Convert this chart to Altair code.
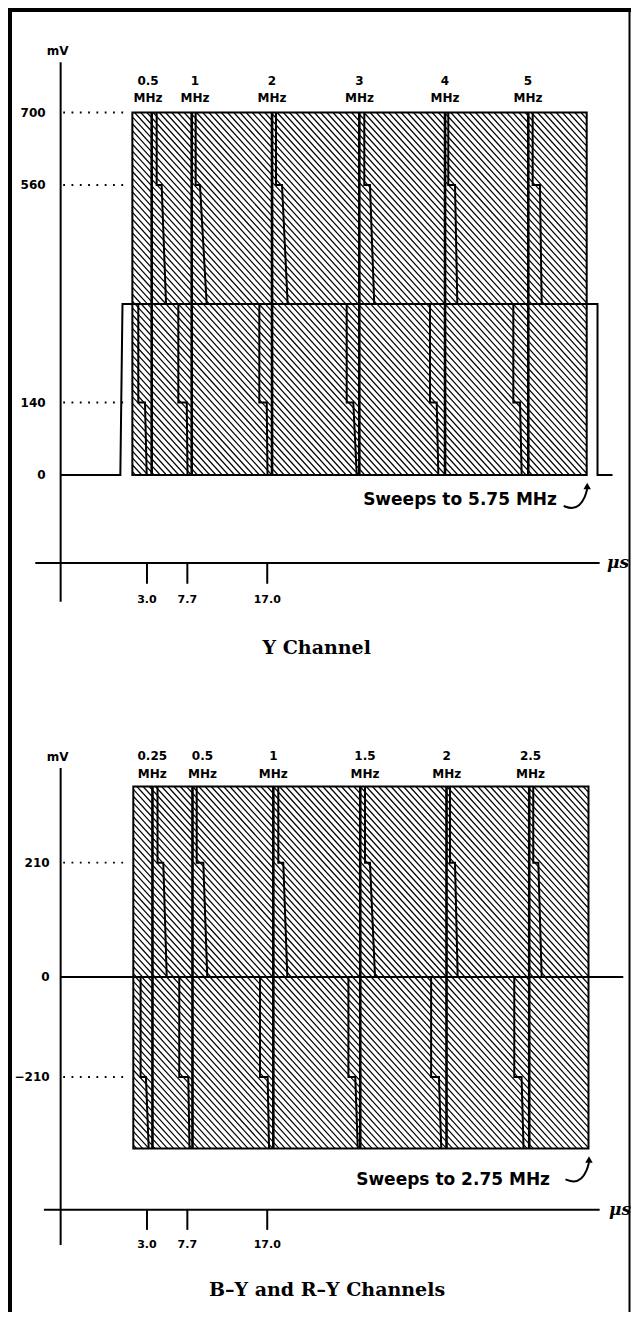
import altair as alt
import pandas as pd

# ============================ data ============================
# time ticks on the horizontal axis (microseconds)
time_ticks = [3.0, 7.7, 17.0]

# ---- Y channel (top diagram) ----
top_freq = ["0.5", "1", "2", "3", "4", "5"]
top_label_us = [3.12, 8.59, 17.56, 27.74, 37.70, 47.36]
top_edge_us = [3.55, 8.21, 17.56, 27.72, 37.70, 47.39]
top_upper_b = [4.13, 8.67, 18.02, 28.30, 38.08, 47.90]
top_upper_jog = [4.71, 9.17, 18.72, 28.96, 38.86, 48.75]
top_upper_end = [5.22, 9.95, 19.38, 29.46, 39.13, 48.95]
top_lower_d = [1.99, 6.65, 16.08, 26.25, 35.95, 45.65]
top_lower_jog = [2.77, 7.63, 16.94, 27.02, 36.73, 46.43]
top_lower_end = [2.97, 7.72, 17.03, 27.42, 36.92, 46.62]
top_levels = [0, 140, 560, 700]
top_level_lbl = ["0", "140", "560", "700"]
top_dotted = [700, 560, 140]
top_block_us = [1.3, 54.19]
top_block_mv = [0, 700]
top_pedestal = 330
top_step_hi, top_step_lo = 560, 140
top_pulse_t = [-7.05, -0.1, 0.15, 55.45, 55.45, 57.2]
top_pulse_v = [0, 0, 330, 330, 0, 0]
top_sweep = "Sweeps to 5.75 MHz"
top_title = "Y Channel"

# ---- B-Y and R-Y channels (bottom diagram) ----
bot_freq = ["0.25", "0.5", "1", "1.5", "2", "2.5"]
bot_label_us = [3.62, 9.46, 17.71, 28.38, 37.89, 47.65]
bot_edge_us = [3.64, 8.30, 17.71, 27.83, 37.87, 47.50]
bot_upper_b = [4.23, 8.79, 18.29, 28.38, 38.28, 47.97]
bot_upper_jog = [4.90, 9.56, 18.87, 28.96, 38.86, 48.56]
bot_upper_end = [5.30, 10.02, 19.34, 29.55, 39.17, 48.95]
bot_lower_d = [2.26, 6.76, 16.16, 26.45, 36.08, 45.76]
bot_lower_jog = [2.88, 7.81, 17.05, 27.25, 36.99, 46.61]
bot_lower_end = [3.20, 7.95, 17.21, 27.54, 37.26, 46.84]
bot_levels = [-210, 0, 210]
bot_level_lbl = ["\u2212210", "0", "210"]
bot_dotted = [210, -210]
bot_block_us = [1.41, 54.4]
bot_block_mv = [-360, 350]
bot_pedestal = 0
bot_step_hi, bot_step_lo = 210, -210
bot_sweep = "Sweeps to 2.75 MHz"
bot_title = "B\u2013Y and R\u2013Y Channels"

# ============================ layout ============================
W, H = 623, 1304
SX = 8.59                       # px per microsecond
X0 = 113.2                      # view x of t = 0
XS = alt.Scale(domain=[0, 60], range=[X0, X0 + 60 * SX], nice=False, zero=False)
YS_TOP = alt.Scale(domain=[0, 700], range=[467, 104.5], nice=False, zero=False)
YS_BOT = alt.Scale(domain=[-210, 0, 210], range=[1069, 969, 854.7], nice=False, zero=False)
SY_TOP = (467 - 104.5) / 700
SY_BOT_UP = (969 - 854.7) / 210
SY_BOT_LO = (1069 - 969) / 210

AXIS_T = -7.05
SANS = "DejaVu Sans"
SERIF = "DejaVu Serif"

# curved arrow shape, px offsets from the block's lower-right corner
ARROW_DX = [-23, -15, -7, -1.5, 0.5]
ARROW_DY = [31, 34, 31, 22, 14]
ARROW_HEAD = (0.5, 11)

top_geo = dict(axis_top=797, mv_lbl=806, xaxis=-170, tick_end=-210, tick_lbl=-241,
               axis_bot=-245, sweep_v=-48, sweep_t=50.73,
               title_t=22.76, title_v=-334, xaxis_from=-10.0, mu_t=56.55, lbl_dx=-15,
               lbl_dy=-24.5, lh=17)
bot_geo = dict(axis_top=384, mv_lbl=392, xaxis=-489, tick_end=-531, tick_lbl=-563,
               axis_bot=-563, sweep_v=-426, sweep_t=49.92,
               title_t=23.96, title_v=-657, xaxis_from=-9.0, mu_t=56.8, lbl_dx=-11,
               lbl_dy=-23.5, lh=17.5)


def xe(field):
    return alt.X(field, type="quantitative", scale=XS, axis=None)


def xd(v):
    return alt.XDatum(v, scale=XS, axis=None)


def ye(field, ys):
    return alt.Y(field, type="quantitative", scale=ys, axis=None)


def yd(v, ys):
    return alt.YDatum(v, scale=ys, axis=None)


def hatch(t0, t1, v0, v1, ys, sy, spacing=6.2, m=1.1):
    a = m * SX
    umin = a * t0 + sy * v0
    umax = a * t1 + sy * v1
    step = m * spacing
    n = int((umax - umin) / step) + 1
    return (
        alt.Chart(alt.sequence(0, n, as_="k"))
        .transform_calculate(u=f"{umin} + (datum.k + 0.5) * {step}")
        .transform_calculate(ts=f"max({t0}, (datum.u - {sy * v1}) / {a})")
        .transform_calculate(te=f"min({t1}, (datum.u - {sy * v0}) / {a})")
        .transform_calculate(vs=f"(datum.u - {a} * datum.ts) / {sy}")
        .transform_calculate(ve=f"(datum.u - {a} * datum.te) / {sy}")
        .transform_filter("datum.te > datum.ts")
        .mark_rule(color="black", strokeWidth=1.2)
        .encode(x=xe("ts"), x2="te:Q", y=ye("vs", ys), y2="ve:Q")
    )


def panel(freq, label_us, edge_us, ub, uj, ue, ld, lj, le, levels, level_lbl, dotted,
          block_us, block_mv, ped, step_hi, step_lo, sweep, title, ys, hatch_parts, sy_low, g,
          pulse=None, zero_line=False):
    layers = []
    for (v0, v1, sy) in hatch_parts:
        layers.append(hatch(block_us[0], block_us[1], v0, v1, ys, sy))

    blocks = pd.DataFrame({
        "t0": [block_us[0], block_us[0]], "t1": [block_us[1], block_us[1]],
        "v0": [ped, block_mv[0]], "v1": [block_mv[1], ped]})
    layers.append(alt.Chart(blocks).mark_rect(fillOpacity=0, stroke="black", strokeWidth=2)
                  .encode(x=xe("t0"), x2="t1:Q", y=ye("v0", ys), y2="v1:Q"))

    edges = pd.DataFrame({"t": edge_us})
    layers.append(alt.Chart(edges).mark_rule(color="black", strokeWidth=2.6)
                  .encode(x=xe("t"), y=yd(block_mv[0], ys), y2=alt.Y2Datum(block_mv[1])))

    rows = []
    for i in range(len(edge_us)):
        for j, (t, v) in enumerate([(ub[i], block_mv[1]), (ub[i], step_hi),
                                    (uj[i], step_hi), (ue[i], ped)]):
            rows.append({"pk": f"u{i}", "o": j, "t": t, "v": v})
        for j, (t, v) in enumerate([(ld[i], ped), (ld[i], step_lo),
                                    (lj[i], step_lo), (le[i], block_mv[0])]):
            rows.append({"pk": f"l{i}", "o": j, "t": t, "v": v})
    strips = pd.DataFrame(rows)
    layers.append(alt.Chart(strips).mark_line(color="black", strokeWidth=2)
                  .encode(x=xe("t"), y=ye("v", ys), detail="pk:N", order="o:Q"))

    if pulse is not None:
        pdf = pd.DataFrame({"t": pulse[0], "v": pulse[1], "o": list(range(len(pulse[0])))})
        layers.append(alt.Chart(pdf).mark_line(color="black", strokeWidth=2)
                      .encode(x=xe("t"), y=ye("v", ys), order="o:Q"))
    if zero_line:
        layers.append(alt.Chart(pd.DataFrame({"v": [0]})).mark_rule(color="black", strokeWidth=1.8)
                      .encode(x=xd(AXIS_T), x2=alt.X2Datum(58.45), y=ye("v", ys)))

    one = pd.DataFrame({"a": [0]})
    # axes
    layers.append(alt.Chart(one).mark_rule(color="black", strokeWidth=2)
                  .encode(x=xd(AXIS_T), y=yd(g["axis_top"], ys), y2=alt.Y2Datum(g["axis_bot"])))
    layers.append(alt.Chart(one).mark_rule(color="black", strokeWidth=2)
                  .encode(x=xd(g["xaxis_from"]), x2=alt.X2Datum(55.7), y=yd(g["xaxis"], ys)))
    ticks = pd.DataFrame({"t": time_ticks, "lbl": [f"{v:.1f}" for v in time_ticks]})
    layers.append(alt.Chart(ticks).mark_rule(color="black", strokeWidth=2)
                  .encode(x=xe("t"), y=yd(g["xaxis"], ys), y2=alt.Y2Datum(g["tick_end"])))
    layers.append(alt.Chart(ticks).mark_text(font=SANS, fontSize=11, fontWeight="bold",
                                             baseline="middle", align="center")
                  .encode(x=xe("t"), y=yd(g["tick_lbl"], ys), text="lbl:N"))
    # dotted level guides
    layers.append(alt.Chart(pd.DataFrame({"v": dotted}))
                  .mark_rule(color="black", strokeWidth=1.8, strokeDash=[1.8, 6.5])
                  .encode(x=xd(AXIS_T + 0.3), x2=alt.X2Datum(0.75), y=ye("v", ys)))
    # level labels
    layers.append(alt.Chart(pd.DataFrame({"v": levels, "lbl": level_lbl}))
                  .mark_text(font=SANS, fontSize=12, fontWeight="bold", align="right",
                             baseline="middle", dx=g["lbl_dx"])
                  .encode(x=xd(AXIS_T), y=ye("v", ys), text="lbl:N"))
    # units
    layers.append(alt.Chart(one).mark_text(font=SANS, fontSize=12, fontWeight="bold",
                                           align="center", baseline="bottom", dx=-3, text="mV")
                  .encode(x=xd(AXIS_T), y=yd(g["mv_lbl"], ys)))
    layers.append(alt.Chart(one).mark_text(font=SERIF, fontSize=17, fontWeight="bold",
                                           fontStyle="italic", align="left", baseline="middle",
                                           text="\u03bcs")
                  .encode(x=xd(g["mu_t"]), y=yd(g["xaxis"], ys)))
    # frequency labels
    fl = pd.DataFrame({"t": label_us, "lbl": [f"{f}\nMHz" for f in freq]})
    layers.append(alt.Chart(fl).mark_text(font=SANS, fontSize=12, fontWeight="bold",
                                          align="center", baseline="bottom", lineBreak="\n",
                                          lineHeight=g["lh"], dy=g["lbl_dy"])
                  .encode(x=xe("t"), y=yd(block_mv[1], ys), text="lbl:N"))
    # sweep note + curved arrow to the block corner
    layers.append(alt.Chart(one).mark_text(font=SANS, fontSize=17, fontWeight="bold",
                                           align="right", baseline="middle", text=sweep)
                  .encode(x=xd(g["sweep_t"]), y=yd(g["sweep_v"], ys)))
    ct, cv = block_us[1], block_mv[0]
    arrow = pd.DataFrame({"t": [ct + d / SX for d in ARROW_DX],
                          "v": [cv - d / sy_low for d in ARROW_DY],
                          "o": list(range(len(ARROW_DX)))})
    layers.append(alt.Chart(arrow).mark_line(color="black", strokeWidth=2, interpolate="basis")
                  .encode(x=xe("t"), y=ye("v", ys), order="o:Q"))
    head = pd.DataFrame({"t": [ct + ARROW_HEAD[0] / SX], "v": [cv - ARROW_HEAD[1] / sy_low]})
    layers.append(alt.Chart(head).mark_point(shape="triangle-up", filled=True, color="black",
                                             size=55, opacity=1)
                  .encode(x=xe("t"), y=ye("v", ys)))
    # title
    layers.append(alt.Chart(one).mark_text(font=SERIF, fontSize=19, fontWeight="bold",
                                           align="center", baseline="middle", text=title)
                  .encode(x=xd(g["title_t"]), y=yd(g["title_v"], ys)))
    return alt.layer(*layers)


top = panel(top_freq, top_label_us, top_edge_us, top_upper_b, top_upper_jog, top_upper_end,
            top_lower_d, top_lower_jog, top_lower_end, top_levels, top_level_lbl, top_dotted,
            top_block_us, top_block_mv, top_pedestal, top_step_hi, top_step_lo,
            top_sweep, top_title, YS_TOP, [(0, 700, SY_TOP)], SY_TOP, top_geo,
            pulse=(top_pulse_t, top_pulse_v))
bot = panel(bot_freq, bot_label_us, bot_edge_us, bot_upper_b, bot_upper_jog, bot_upper_end,
            bot_lower_d, bot_lower_jog, bot_lower_end, bot_levels, bot_level_lbl, bot_dotted,
            bot_block_us, bot_block_mv, bot_pedestal, bot_step_hi, bot_step_lo,
            bot_sweep, bot_title, YS_BOT,
            [(0, bot_block_mv[1], SY_BOT_UP), (bot_block_mv[0], 0, SY_BOT_LO)],
            SY_BOT_LO, bot_geo, zero_line=True)

dummy = pd.DataFrame({"a": [0]})
frame_left = alt.Chart(dummy).mark_rule(color="black", strokeWidth=4).encode(
    x=alt.value(2), y=alt.value(0), y2=alt.value(H))
frame_top = alt.Chart(dummy).mark_rule(color="black", strokeWidth=4).encode(
    x=alt.value(0), x2=alt.value(W), y=alt.value(2))
frame_right = alt.Chart(dummy).mark_rule(color="black", strokeWidth=2).encode(
    x=alt.value(W - 1.5), y=alt.value(0), y2=alt.value(H))

chart = (
    alt.layer(top, bot, frame_left, frame_top, frame_right)
    .resolve_scale(y="independent")
    .properties(width=W, height=H, padding=0, autosize=alt.AutoSizeParams(type="none"),
                background="white")
    .configure_view(strokeWidth=0)
)

chart.save("out.html", embed_options={"renderer": "svg", "actions": False})
